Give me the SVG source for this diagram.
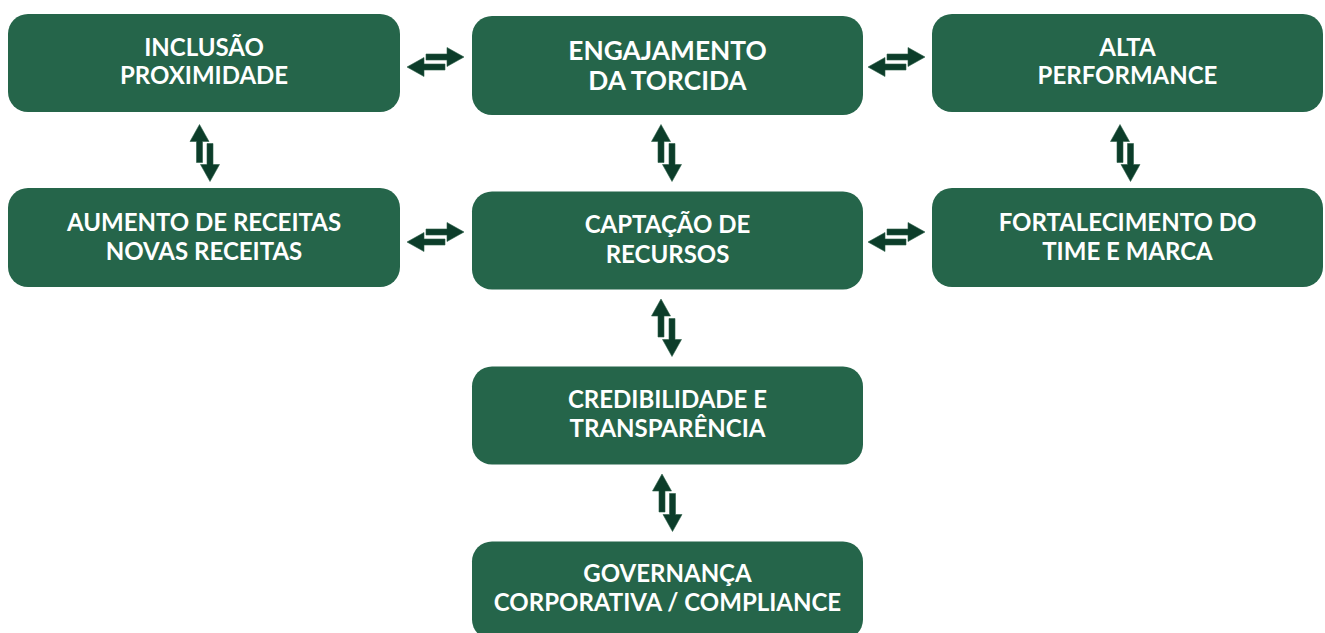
<svg xmlns="http://www.w3.org/2000/svg" xmlns:xlink="http://www.w3.org/1999/xlink" width="1325" height="633" viewBox="0 0 1325 633">
<style>
.box{fill:#25654a;}
.lbl{font-family:Lato,"Liberation Sans",sans-serif;font-weight:bold;fill:#ffffff;text-anchor:middle;font-size:24px;}
.big{font-size:26.3px;}
.arr{fill:#0c3d2a;stroke:#2b6048;stroke-width:0.6;}
</style>
<defs>
<path id="ar" d="M0,0 L-17,-9.5 L-17,-3 L-38,-3 L-38,3 L-17,3 L-17,9.5 Z"/>
</defs>
<rect width="1325" height="633" fill="#ffffff"/>
<g id="n-inclusao">
<rect class="box" x="8" y="14" width="392" height="98" rx="20"/>
<text class="lbl" x="204" y="55.5">INCLUSÃO</text>
<text class="lbl" x="204" y="84">PROXIMIDADE</text>
</g>
<g id="n-engajamento">
<rect class="box" x="472" y="16" width="391" height="99" rx="20"/>
<text class="lbl big" x="667.5" y="59.5">ENGAJAMENTO</text>
<text class="lbl big" x="667.5" y="90">DA TORCIDA</text>
</g>
<g id="n-alta">
<rect class="box" x="932" y="14" width="391" height="98" rx="20"/>
<text class="lbl" x="1127.5" y="55.5">ALTA</text>
<text class="lbl" x="1127.5" y="84">PERFORMANCE</text>
</g>
<g id="n-aumento">
<rect class="box" x="8" y="188" width="392" height="99" rx="20"/>
<text class="lbl" x="204" y="231">AUMENTO DE RECEITAS</text>
<text class="lbl" x="204" y="259.5">NOVAS RECEITAS</text>
</g>
<g id="n-captacao">
<rect class="box" x="472" y="191.5" width="391" height="98" rx="20"/>
<text class="lbl" x="667.5" y="233">CAPTAÇÃO DE</text>
<text class="lbl" x="667.5" y="263">RECURSOS</text>
</g>
<g id="n-fortalecimento">
<rect class="box" x="932" y="188" width="391" height="99" rx="20"/>
<text class="lbl" x="1127.5" y="231">FORTALECIMENTO DO</text>
<text class="lbl" x="1127.5" y="259.5">TIME E MARCA</text>
</g>
<g id="n-credibilidade">
<rect class="box" x="472" y="366.5" width="391" height="98" rx="20"/>
<text class="lbl" x="667.5" y="408">CREDIBILIDADE E</text>
<text class="lbl" x="667.5" y="437">TRANSPARÊNCIA</text>
</g>
<g id="n-governanca">
<rect class="box" x="472" y="541.5" width="391" height="98" rx="20"/>
<text class="lbl" x="667.5" y="582">GOVERNANÇA</text>
<text class="lbl" x="667.5" y="610.5">CORPORATIVA / COMPLIANCE</text>
</g>
<g id="connectors">
<use href="#ar" class="arr" transform="translate(407,67) rotate(180)"/>
<use href="#ar" class="arr" transform="translate(464,57)"/>
<use href="#ar" class="arr" transform="translate(868,67) rotate(180)"/>
<use href="#ar" class="arr" transform="translate(925,57)"/>
<use href="#ar" class="arr" transform="translate(407,242) rotate(180)"/>
<use href="#ar" class="arr" transform="translate(464,232)"/>
<use href="#ar" class="arr" transform="translate(868,242) rotate(180)"/>
<use href="#ar" class="arr" transform="translate(925,232)"/>
<use href="#ar" class="arr" transform="translate(199.5,124.5) rotate(-90)"/>
<use href="#ar" class="arr" transform="translate(210,181.5) rotate(90)"/>
<use href="#ar" class="arr" transform="translate(661,124.5) rotate(-90)"/>
<use href="#ar" class="arr" transform="translate(672,181.5) rotate(90)"/>
<use href="#ar" class="arr" transform="translate(1120,124.5) rotate(-90)"/>
<use href="#ar" class="arr" transform="translate(1130.5,181.5) rotate(90)"/>
<use href="#ar" class="arr" transform="translate(661,299) rotate(-90)"/>
<use href="#ar" class="arr" transform="translate(672,356.5) rotate(90)"/>
<use href="#ar" class="arr" transform="translate(662,474) rotate(-90)"/>
<use href="#ar" class="arr" transform="translate(672.5,531.5) rotate(90)"/>
</g>
</svg>
